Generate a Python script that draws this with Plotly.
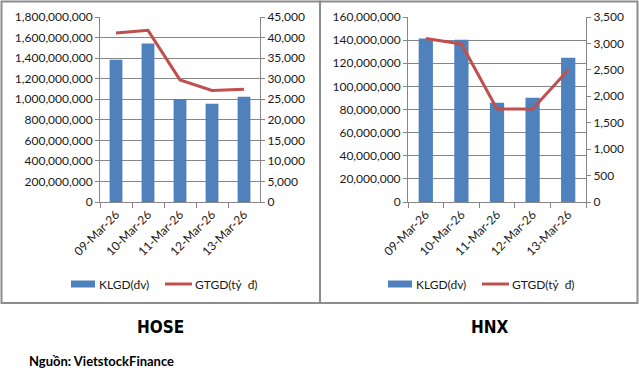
import plotly.graph_objects as go

dates = ["09-Mar-26", "10-Mar-26", "11-Mar-26", "12-Mar-26", "13-Mar-26"]
hose_klgd = [1385000000, 1541000000, 1002000000, 957000000, 1025000000]
hose_gtgd = [41100, 41750, 29700, 27150, 27450]
hnx_klgd = [141300000, 140400000, 85900000, 90200000, 124800000]
hnx_gtgd = [3095, 2990, 1760, 1760, 2497]

W, H = 639, 373
BAR = "#4F81BD"
LINE = "#C0504D"
GRID = "#868686"
FONT = "Lato"
TXT = "#1a1a1a"
TITLEFONT = "DejaVu Sans Condensed, Liberation Sans Narrow, Roboto Condensed, DejaVu Sans"


def px(x):
    return x / W


def py(y):
    return 1 - y / H


fig = go.Figure()
fig.add_trace(go.Bar(x=dates, y=hose_klgd, marker_color=BAR, xaxis="x", yaxis="y",
                     name="KLGD(đv)", showlegend=False))
fig.add_trace(go.Scatter(x=dates, y=hose_gtgd, mode="lines", line=dict(color=LINE, width=3),
                         xaxis="x", yaxis="y2", name="GTGD(tỷ đ)", showlegend=False))
fig.add_trace(go.Bar(x=dates, y=hnx_klgd, marker_color=BAR, xaxis="x2", yaxis="y3",
                     name="KLGD(đv)", showlegend=False))
fig.add_trace(go.Scatter(x=dates, y=hnx_gtgd, mode="lines", line=dict(color=LINE, width=3),
                         xaxis="x2", yaxis="y4", name="GTGD(tỷ đ)", showlegend=False))

tickfont = dict(family=FONT, size=12, color=TXT)
ydom = [py(202), py(17)]

xcommon = dict(type="category", tickangle=-45, tickfont=tickfont, showline=True,
               linecolor=GRID, linewidth=1, ticks="outside", tickcolor=GRID, ticklen=5,
               tickson="boundaries", showgrid=False, fixedrange=True, automargin=False)
ycommon = dict(tickfont=tickfont, showline=True, linecolor=GRID, linewidth=1,
               ticks="outside", tickcolor=GRID, ticklen=4, tickformat=",d",
               zeroline=False, fixedrange=True, automargin=False)

fig.update_layout(
    template="none",
    width=W, height=H,
    margin=dict(l=0, r=0, t=0, b=0, pad=0),
    paper_bgcolor="white", plot_bgcolor="white",
    bargap=0.6,
    showlegend=False,
    xaxis=dict(xcommon, domain=[px(100), px(260)], anchor="y"),
    yaxis=dict(ycommon, domain=ydom, range=[0, 1800000000], dtick=200000000,
               showgrid=True, gridcolor=GRID, gridwidth=1, anchor="x"),
    yaxis2=dict(ycommon, overlaying="y", side="right", range=[0, 45000], dtick=5000,
                showgrid=False, anchor="x"),
    xaxis2=dict(xcommon, domain=[px(408), px(586)], anchor="y3"),
    yaxis3=dict(ycommon, domain=ydom, range=[0, 160000000], dtick=20000000,
                showgrid=True, gridcolor=GRID, gridwidth=1, anchor="x2"),
    yaxis4=dict(ycommon, overlaying="y3", side="right", range=[0, 3500], dtick=500,
                showgrid=False, anchor="x2"),
)

shapes = [
    dict(type="rect", xref="paper", yref="paper", x0=px(1.5), x1=px(320), y0=py(303), y1=py(1.5),
         line=dict(color="#8c8c8c", width=2), fillcolor="rgba(0,0,0,0)", layer="below"),
    dict(type="rect", xref="paper", yref="paper", x0=px(320), x1=px(637.5), y0=py(303), y1=py(1.5),
         line=dict(color="#8c8c8c", width=2), fillcolor="rgba(0,0,0,0)", layer="below"),
]
annotations = []
legend_pos = [(71, 165), (388, 482)]
for bx, lx in legend_pos:
    shapes.append(dict(type="rect", xref="paper", yref="paper", x0=px(bx), x1=px(bx + 24),
                       y0=py(287.5), y1=py(280.5), fillcolor=BAR, line=dict(width=0)))
    shapes.append(dict(type="line", xref="paper", yref="paper", x0=px(lx), x1=px(lx + 27),
                       y0=py(284), y1=py(284), line=dict(color=LINE, width=3)))
    annotations.append(dict(text="KLGD(đv)", xref="paper", yref="paper", x=px(bx + 26), y=py(284),
                            xanchor="left", yanchor="middle", showarrow=False,
                            font=dict(family=FONT, size=12, color=TXT)))
    annotations.append(dict(text="GTGD(tỷ  đ)", xref="paper", yref="paper", x=px(lx + 28), y=py(284),
                            xanchor="left", yanchor="middle", showarrow=False,
                            font=dict(family=FONT, size=12, color=TXT)))

annotations.append(dict(text="<b>HOSE</b>", xref="paper", yref="paper", x=px(160), y=py(327),
                        xanchor="center", yanchor="middle", showarrow=False,
                        font=dict(family=TITLEFONT, size=17, color="#000")))
annotations.append(dict(text="<b>HNX</b>", xref="paper", yref="paper", x=px(490), y=py(327),
                        xanchor="center", yanchor="middle", showarrow=False,
                        font=dict(family=TITLEFONT, size=17, color="#000")))
annotations.append(dict(text="<b>Nguồn: VietstockFinance</b>", xref="paper", yref="paper",
                        x=px(27), y=py(361), xanchor="left", yanchor="middle", showarrow=False,
                        font=dict(family=FONT, size=13, color="#000")))

fig.update_layout(shapes=shapes, annotations=annotations)
fig.write_html("out.html", config={"displayModeBar": False},
               post_script="document.body.style.margin='0';document.body.style.padding='0';")
